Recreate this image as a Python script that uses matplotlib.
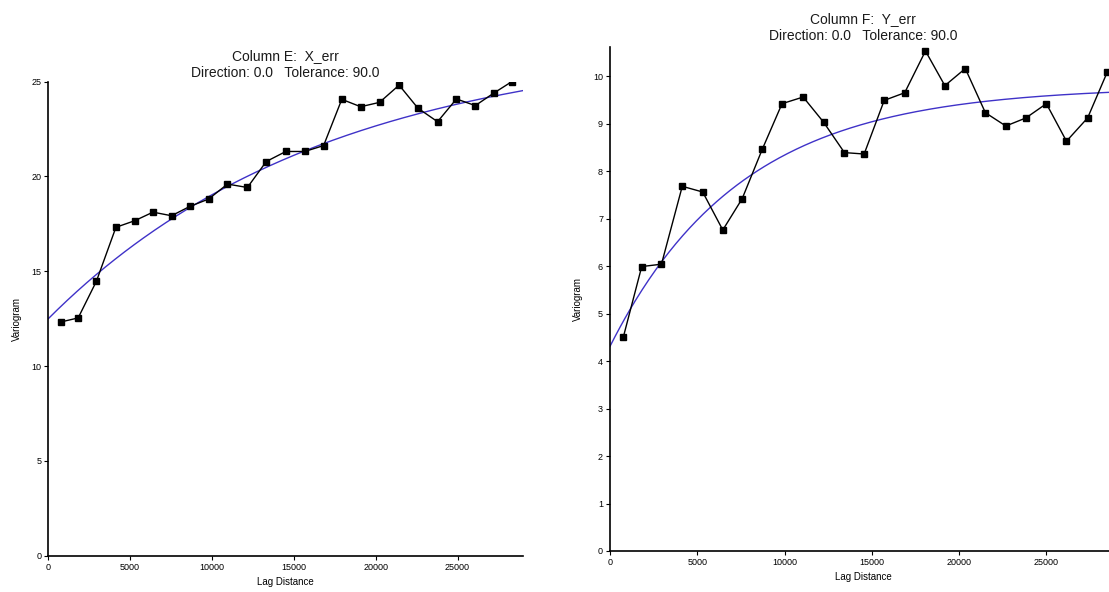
import numpy as np
import matplotlib
matplotlib.use("Agg")
import matplotlib.pyplot as plt

plt.rcParams['font.family'] = ['Liberation Sans', 'DejaVu Sans']

# Column E (X_err) experimental variogram
lag_e = [776, 1824, 2936, 4131, 5285, 6396, 7528, 8640, 9793, 10947, 12163, 13316,
         14511, 15665, 16818, 17930, 19083, 20236, 21431, 22585, 23780, 24933,
         26087, 27198, 28310]
gam_e = [12.33, 12.54, 14.47, 17.32, 17.67, 18.12, 17.93, 18.42, 18.81, 19.60, 19.42,
         20.79, 21.32, 21.32, 21.63, 24.07, 23.68, 23.91, 24.82, 23.60, 22.89, 24.09,
         23.74, 24.39, 25.00]

# Column F (Y_err) experimental variogram
lag_f = [767, 1817, 2948, 4139, 5310, 6461, 7571, 8722, 9853, 11064, 12235, 13427,
         14557, 15708, 16879, 18070, 19180, 20351, 21502, 22673, 23824, 24995,
         26146, 27357, 28488]
gam_f = [4.51, 5.99, 6.04, 7.68, 7.56, 6.76, 7.42, 8.46, 9.42, 9.56, 9.03, 8.39,
         8.36, 9.49, 9.65, 10.53, 9.80, 10.16, 9.23, 8.95, 9.12, 9.42, 8.63, 9.12,
         10.09]

# exponential model fits: nugget, partial sill, range parameter
model_e = (12.5, 14.7, 17000)
model_f = (4.31, 5.47, 7500)

titles = ["Column E:  X_err\nDirection: 0.0   Tolerance: 90.0",
          "Column F:  Y_err\nDirection: 0.0   Tolerance: 90.0"]
xticks = [0, 5000, 10000, 15000, 20000, 25000]
yticks_e = [0, 5, 10, 15, 20, 25]
yticks_f = [0, 1, 2, 3, 4, 5, 6, 7, 8, 9, 10]

W, H = 1109, 592
fig = plt.figure(figsize=(W / 100, H / 100), dpi=100)

ax1 = fig.add_axes([48.3 / W, (H - 555.7) / H, (523 - 48.3) / W, (555.7 - 81.7) / H])
ax2 = fig.add_axes([610 / W, (H - 551) / H, 506.3 / W, (551 - 46.7) / H])


def expo(model, h):
    c0, c, r = model
    return c0 + c * (1 - np.exp(-h / r))


panels = [(ax1, lag_e, gam_e, model_e, (0, 25), yticks_e, titles[0], 3.4),
          (ax2, lag_f, gam_f, model_f, (0, 10.62), yticks_f, titles[1], 4.8)]

for ax, lag, gam, model, ylim, yt, title, pad in panels:
    h = np.linspace(0, 29000, 300)
    ax.plot(h, expo(model, h), color='#3f32c8', lw=1.0, zorder=2)
    ax.plot(lag, gam, color='black', lw=1.0, marker='s', markersize=4.5, zorder=3)
    ax.set_xlim(0, 29000)
    ax.set_ylim(*ylim)
    ax.set_xticks(xticks)
    ax.set_yticks(yt)
    ax.spines['top'].set_visible(False)
    ax.spines['right'].set_visible(False)
    ax.spines['left'].set_linewidth(1.2)
    ax.spines['bottom'].set_linewidth(1.2)
    ax.tick_params(direction='out', length=3, width=0.8, labelsize=6.5, pad=2)
    ax.set_xlabel("Lag Distance", fontsize=7, labelpad=4)
    ax.set_ylabel("Variogram", fontsize=7, labelpad=7)
    ax.set_title(title, fontsize=10, linespacing=1.3, pad=pad, color='#1a1a1a')
    ax.patch.set_alpha(0)

fig.savefig("out.png", dpi=100)
